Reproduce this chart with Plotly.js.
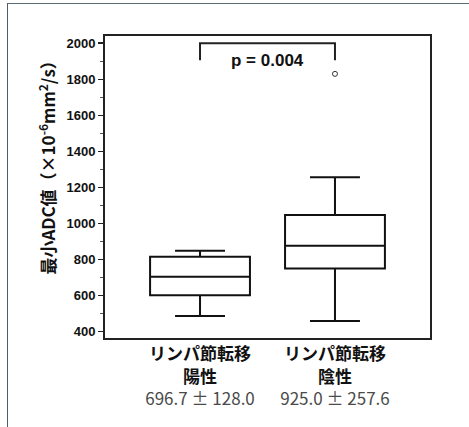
<!DOCTYPE html>
<html>
<head>
<meta charset="utf-8">
<script src="https://cdn.plot.ly/plotly-3.0.1.min.js"></script>
<style>
  html, body { margin: 0; padding: 0; background: #fff; }
  #wrap { position: relative; width: 469px; height: 427px; overflow: hidden; }
  #chart { position: absolute; left: 0; top: 0; width: 469px; height: 427px; }
  #frame { position: absolute; left: 7px; top: 3px; width: 480px; height: 440px;
           border-top: 1.5px solid #5a6c76; border-left: 1.5px solid #4e5e68; pointer-events: none; }
</style>
</head>
<body>
<div id="wrap">
  <div id="chart"></div>
  <div id="frame"></div>
</div>
<script>
// ---- data ----
const groupLine1 = ["リンパ節転移", "リンパ節転移"];
const groupLine2 = ["陽性", "陰性"];
const categories = ["pos", "neg"];
const lowerWhisker = [487, 459];
const q1Values = [602, 750];
const medianValues = [705, 877];
const q3Values = [816, 1047];
const upperWhisker = [849, 1257];
const outlierCategory = ["neg"];
const outlierValues = [1830];
const meanValues = ["696.7", "925.0"];
const sdValues = ["128.0", "257.6"];
const pValueText = "p = 0.004";
const yTitleText = "最小ADC値（×10<sup>-6</sup>mm<sup>2</sup>/s）";
const bracketTop = 2000;
const bracketLeg = 1905;
const yTickValues = [400, 600, 800, 1000, 1200, 1400, 1600, 1800, 2000];

const tickText = categories.map((c, i) =>
  "<b>" + groupLine1[i] + "</b><br><b>" + groupLine2[i] + "</b><br>" +
  "<span style='color:#4a4a4a'>" + meanValues[i] + " ± " + sdValues[i] + "</span>");

const boxTrace = {
  type: "box",
  x: categories,
  q1: q1Values,
  median: medianValues,
  q3: q3Values,
  lowerfence: lowerWhisker,
  upperfence: upperWhisker,
  width: 0.74,
  whiskerwidth: 0.5,
  line: { color: "#111", width: 2 },
  fillcolor: "#fff",
  boxpoints: false,
  hoverinfo: "skip",
  showlegend: false
};

const outlierTrace = {
  type: "scatter",
  mode: "markers",
  x: outlierCategory,
  y: outlierValues,
  marker: { symbol: "circle-open", size: 5, color: "#333", line: { width: 1 } },
  hoverinfo: "skip",
  showlegend: false
};

const layout = {
  width: 469,
  height: 427,
  margin: { l: 105, r: 39, t: 36, b: 89 },
  paper_bgcolor: "#fff",
  plot_bgcolor: "#fff",
  showlegend: false,
  font: { family: "'Noto Sans CJK JP', 'Liberation Sans', sans-serif", color: "#111" },
  xaxis: {
    type: "category",
    categoryorder: "array",
    categoryarray: categories,
    range: [-0.704, 1.704],
    tickvals: categories,
    ticktext: tickText,
    ticks: "",
    showgrid: false,
    zeroline: false,
    showline: true,
    mirror: true,
    linecolor: "#222",
    linewidth: 2,
    tickfont: { size: 17, color: "#111", family: "'Noto Sans CJK JP', sans-serif" }
  },
  yaxis: {
    range: [365, 2040],
    tickvals: yTickValues,
    ticks: "outside",
    ticklen: 5,
    tickwidth: 1.5,
    tickcolor: "#222",
    minor: { dtick: 100, tick0: 0, ticks: "outside", ticklen: 3, tickwidth: 1, tickcolor: "#555" },
    showgrid: false,
    zeroline: false,
    showline: true,
    mirror: true,
    linecolor: "#222",
    linewidth: 2,
    tickfont: { size: 13, color: "#111", family: "'Liberation Sans', Arial, sans-serif", weight: "bold" }
  },
  shapes: [{
    type: "path",
    xref: "x",
    yref: "y",
    path: "M 0," + bracketLeg + " L 0," + bracketTop + " L 1," + bracketTop + " L 1," + bracketLeg,
    line: { color: "#222", width: 2 }
  }],
  annotations: [{
    xref: "x",
    yref: "y",
    x: 0.5,
    y: bracketLeg,
    text: "<b>" + pValueText + "</b>",
    showarrow: false,
    font: { size: 17, color: "#111", family: "'Liberation Sans', Arial, sans-serif" }
  }, {
    xref: "paper",
    yref: "paper",
    x: -0.178,
    y: 0.578,
    xanchor: "center",
    yanchor: "middle",
    textangle: -90,
    text: "<b>" + yTitleText + "</b>",
    showarrow: false,
    font: { size: 17, color: "#111", family: "'Noto Sans CJK JP', sans-serif" }
  }]
};

Plotly.newPlot("chart", [boxTrace, outlierTrace], layout, { displayModeBar: false, staticPlot: true });
</script>
</body>
</html>
